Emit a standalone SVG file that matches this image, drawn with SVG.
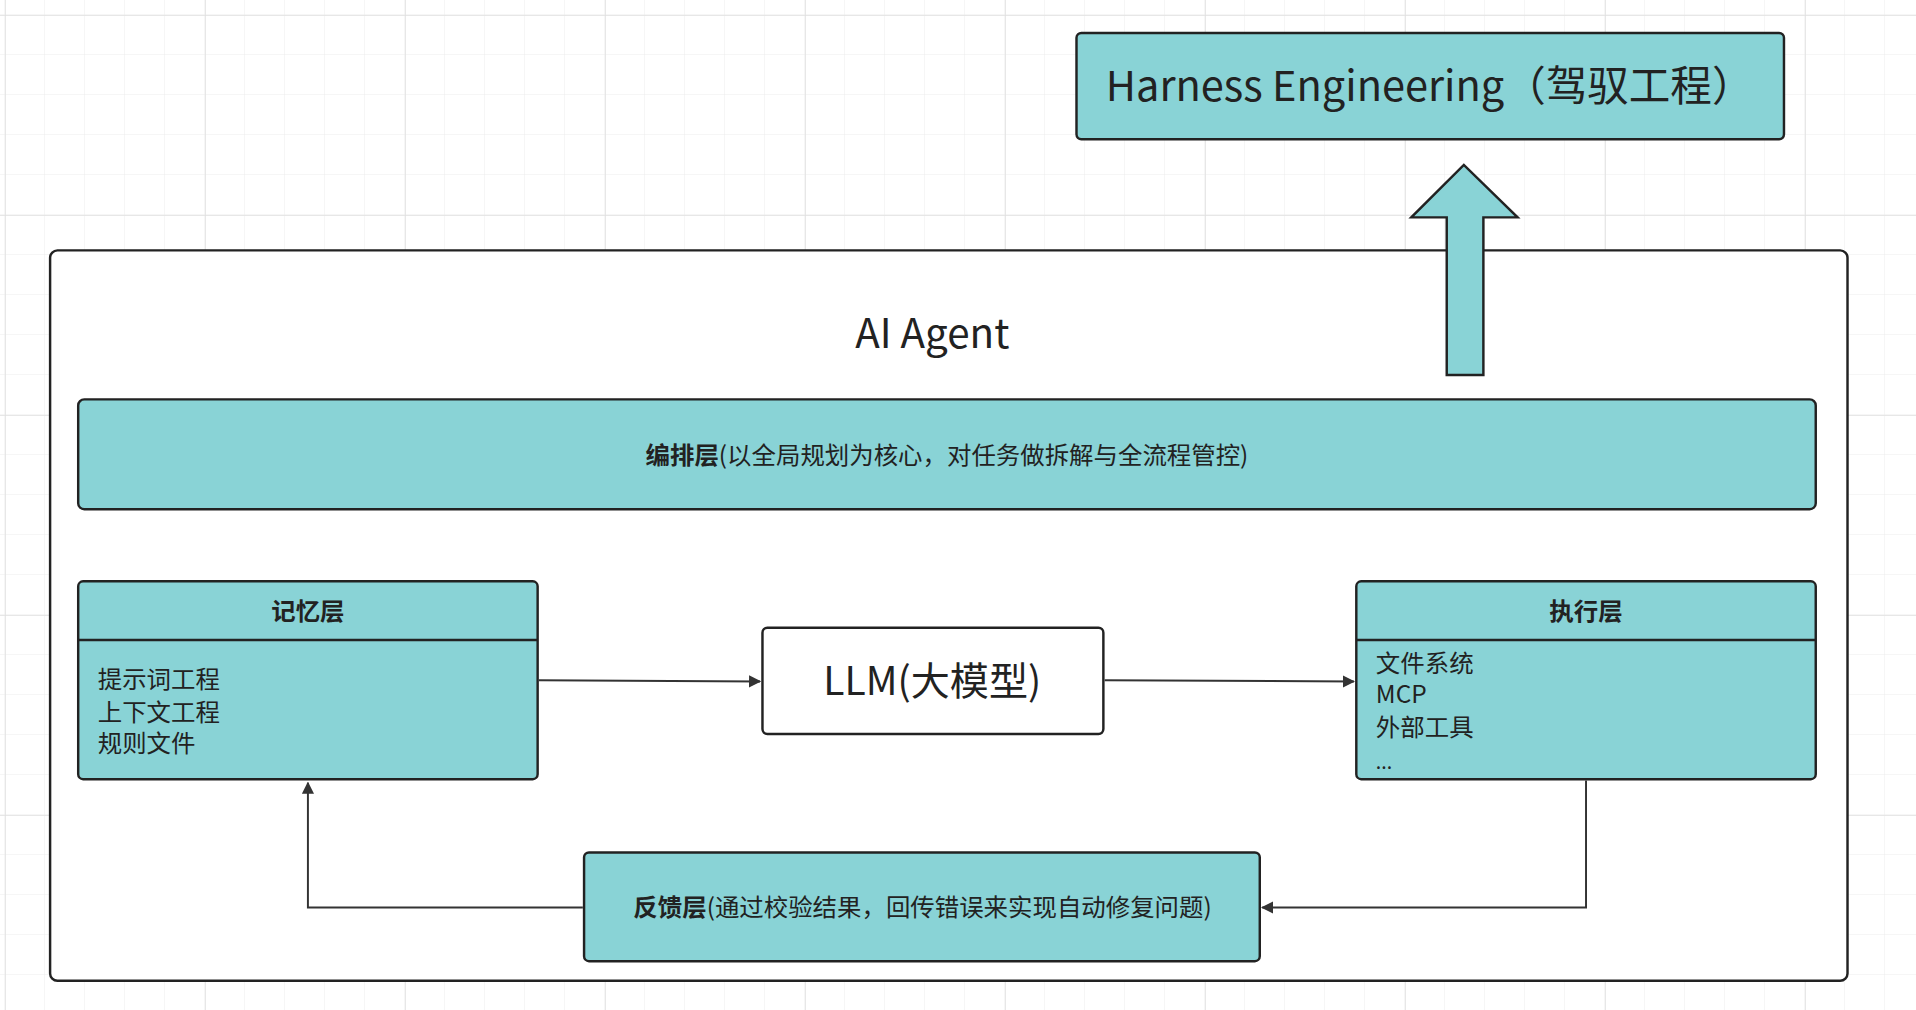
<svg xmlns="http://www.w3.org/2000/svg" width="1916" height="1010" viewBox="0 0 1916 1010">
<defs>
<pattern id="g" width="40" height="40" patternUnits="userSpaceOnUse"><path d="M40 0V40M0 40H40" fill="none" stroke="#ececec" stroke-width="1"/></pattern>
<pattern id="G" width="200" height="200" patternUnits="userSpaceOnUse" x="5" y="15"><rect width="200" height="200" fill="url(#g)"/><path d="M0 0V200M0 0H200" fill="none" stroke="#e0e0e0" stroke-width="1.5"/></pattern>
<marker id="a" viewBox="0 0 10 10" refX="9" refY="5" markerWidth="10" markerHeight="10" markerUnits="userSpaceOnUse" orient="auto"><path d="M0 0L10 5L0 10Z" fill="#333"/></marker>
</defs>
<style>
.t{fill:#89d3d6;stroke:#222;stroke-width:2}
.w{fill:#fff;stroke:#222;stroke-width:2}
text{font-family:"Noto Sans CJK SC","Noto Sans",sans-serif;fill:#222}
.c{stroke:#333;stroke-width:1.6;fill:none}
</style>
<rect width="1916" height="1010" fill="#fff"/>
<rect width="1916" height="1010" fill="url(#G)"/>
<g transform="scale(1.2219,1.2213)">
<g id="outer"><rect class="w" x="41" y="205" width="1471" height="598" rx="6"/><text x="763" y="285" font-size="33" text-anchor="middle">AI Agent</text></g>
<g id="harness"><rect class="t" x="881" y="27" width="579" height="87" rx="4"/><text x="1170" y="83" font-size="34" text-anchor="middle">Harness Engineering（驾驭工程）</text></g>
<g id="uparrow"><path class="t" d="M1184 307V178H1155L1198 135L1242 178H1214V307Z"/></g>
<g id="orch"><rect class="t" x="64" y="327" width="1422" height="90" rx="5"/><text x="775" y="380" font-size="20" text-anchor="middle"><tspan font-weight="bold">编排层</tspan>(以全局规划为核心，对任务做拆解与全流程管控)</text></g>
<g id="memory"><rect class="t" x="64" y="476" width="376" height="162" rx="4"/><path d="M64 524H440" stroke="#222" stroke-width="2"/><text x="252" y="508" font-size="20" font-weight="bold" text-anchor="middle">记忆层</text><text x="80" y="563" font-size="20">提示词工程</text><text x="80" y="590" font-size="20">上下文工程</text><text x="80" y="616" font-size="20">规则文件</text></g>
<g id="llm"><rect class="w" x="624" y="514" width="279" height="87" rx="4"/><text x="763" y="569" font-size="32" text-anchor="middle">LLM(大模型)</text></g>
<g id="exec"><rect class="t" x="1110" y="476" width="376" height="162" rx="4"/><path d="M1110 524H1486" stroke="#222" stroke-width="2"/><text x="1298" y="508" font-size="20" font-weight="bold" text-anchor="middle">执行层</text><text x="1126" y="550" font-size="20">文件系统</text><text x="1126" y="576" font-size="20">MCP</text><text x="1126" y="603" font-size="20">外部工具</text><text x="1126" y="630" font-size="16">...</text></g>
<g id="feedback"><rect class="t" x="478" y="698" width="553" height="89" rx="4"/><text x="755" y="750" font-size="20" text-anchor="middle"><tspan font-weight="bold">反馈层</tspan>(通过校验结果，回传错误来实现自动修复问题)</text></g>
<g id="connectors">
<path class="c" d="M441 557L622 558" marker-end="url(#a)"/>
<path class="c" d="M904 557L1108 558" marker-end="url(#a)"/>
<path class="c" d="M1298 639V743H1033" marker-end="url(#a)"/>
<path class="c" d="M477 743H252V641" marker-end="url(#a)"/>
</g>
</g>
</svg>
